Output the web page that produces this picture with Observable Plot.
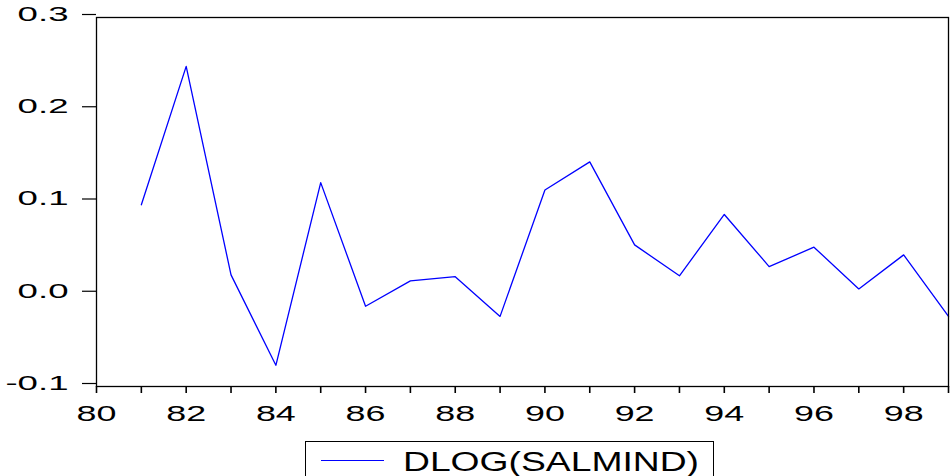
<!DOCTYPE html>
<html>
<head>
<meta charset="utf-8">
<script src="https://cdn.jsdelivr.net/npm/d3@7"></script>
<script src="https://cdn.jsdelivr.net/npm/@observablehq/plot@0.6"></script>
<style>
  html, body { margin: 0; padding: 0; background: #fff; }
  body { width: 952px; height: 476px; overflow: hidden; position: relative; font-family: "Liberation Sans", Arial, sans-serif; }
  #legend { position: absolute; left: 305px; top: 441px; width: 407px; height: 60px; border: 1px solid #000; box-sizing: content-box; }
  #legend .swatch { position: absolute; left: 15px; top: 18px; width: 63px; height: 0; border-top: 1.3px solid #0000ff; }
  #legend .label { position: absolute; left: 97px; top: 7px; font-size: 27px; line-height: 1; white-space: nowrap; transform-origin: 0 0; color: #000; }
</style>
</head>
<body>
<div id="chart"></div>
<div id="legend"><span class="swatch"></span><span class="label">DLOG(SALMIND)</span></div>
<script>
// Data
const years = [81, 82, 83, 84, 85, 86, 87, 88, 89, 90, 91, 92, 93, 94, 95, 96, 97, 98, 99];
const dlogSalmind = [0.097, 0.247, 0.021, -0.077, 0.121, -0.013, 0.0145, 0.019, -0.024, 0.113, 0.1435, 0.0535, 0.020, 0.0865, 0.030, 0.051, 0.0058, 0.0427, -0.024];
const xTicks = [80, 81, 82, 83, 84, 85, 86, 87, 88, 89, 90, 91, 92, 93, 94, 95, 96, 97, 98, 99];
const xTickLabels = [80, 82, 84, 86, 88, 90, 92, 94, 96, 98];
const yTicks = [-0.1, 0.0, 0.1, 0.2, 0.3];
const seriesName = "DLOG(SALMIND)";

const data = years.map((y, i) => ({year: y, value: dlogSalmind[i]}));

const chart = Plot.plot({
  width: 952,
  height: 441,
  marginLeft: 96,
  marginRight: 4,
  marginTop: 17,
  marginBottom: 55,
  style: {fontFamily: "'Liberation Sans', Arial, sans-serif", color: "#000", background: "#fff"},
  x: {domain: [80, 99]},
  y: {domain: [-0.1, 0.3]},
  marks: [
    Plot.line(data, {x: "year", y: "value", stroke: "#0000ff", strokeWidth: 1.3}),
    Plot.axisY({
      ticks: yTicks,
      tickSize: 14,
      tickPadding: 14,
      tickFormat: d => d.toFixed(1),
      fontSize: 20,
      dy: -3,
      stroke: "#000",
      strokeWidth: 1.2,
      label: null
    }),
    Plot.axisX({
      ticks: xTicks,
      tickSize: 7,
      tickPadding: 12,
      tickFormat: d => xTickLabels.includes(d) ? String(d) : "",
      fontSize: 22,
      stroke: "#000",
      strokeWidth: 1.6,
      label: null
    }),
    Plot.frame({stroke: "#000", strokeWidth: 1.3})
  ]
});
document.getElementById("chart").append(chart);

// The reference's typography is horizontally stretched; reproduce it.
function stretch(selector, factor) {
  chart.querySelectorAll(selector).forEach(t => {
    if (!t.textContent) return;
    const L = t.getComputedTextLength();
    t.setAttribute("textLength", (L * factor).toFixed(2));
    t.setAttribute("lengthAdjust", "spacingAndGlyphs");
  });
}
stretch('g[aria-label="y-axis tick label"] text', 1.83);
stretch('g[aria-label="x-axis tick label"] text', 1.63);

const lab = document.querySelector("#legend .label");
lab.textContent = seriesName;
const w = lab.getBoundingClientRect().width;
lab.style.transform = `scaleX(${296 / w})`;
</script>
</body>
</html>
